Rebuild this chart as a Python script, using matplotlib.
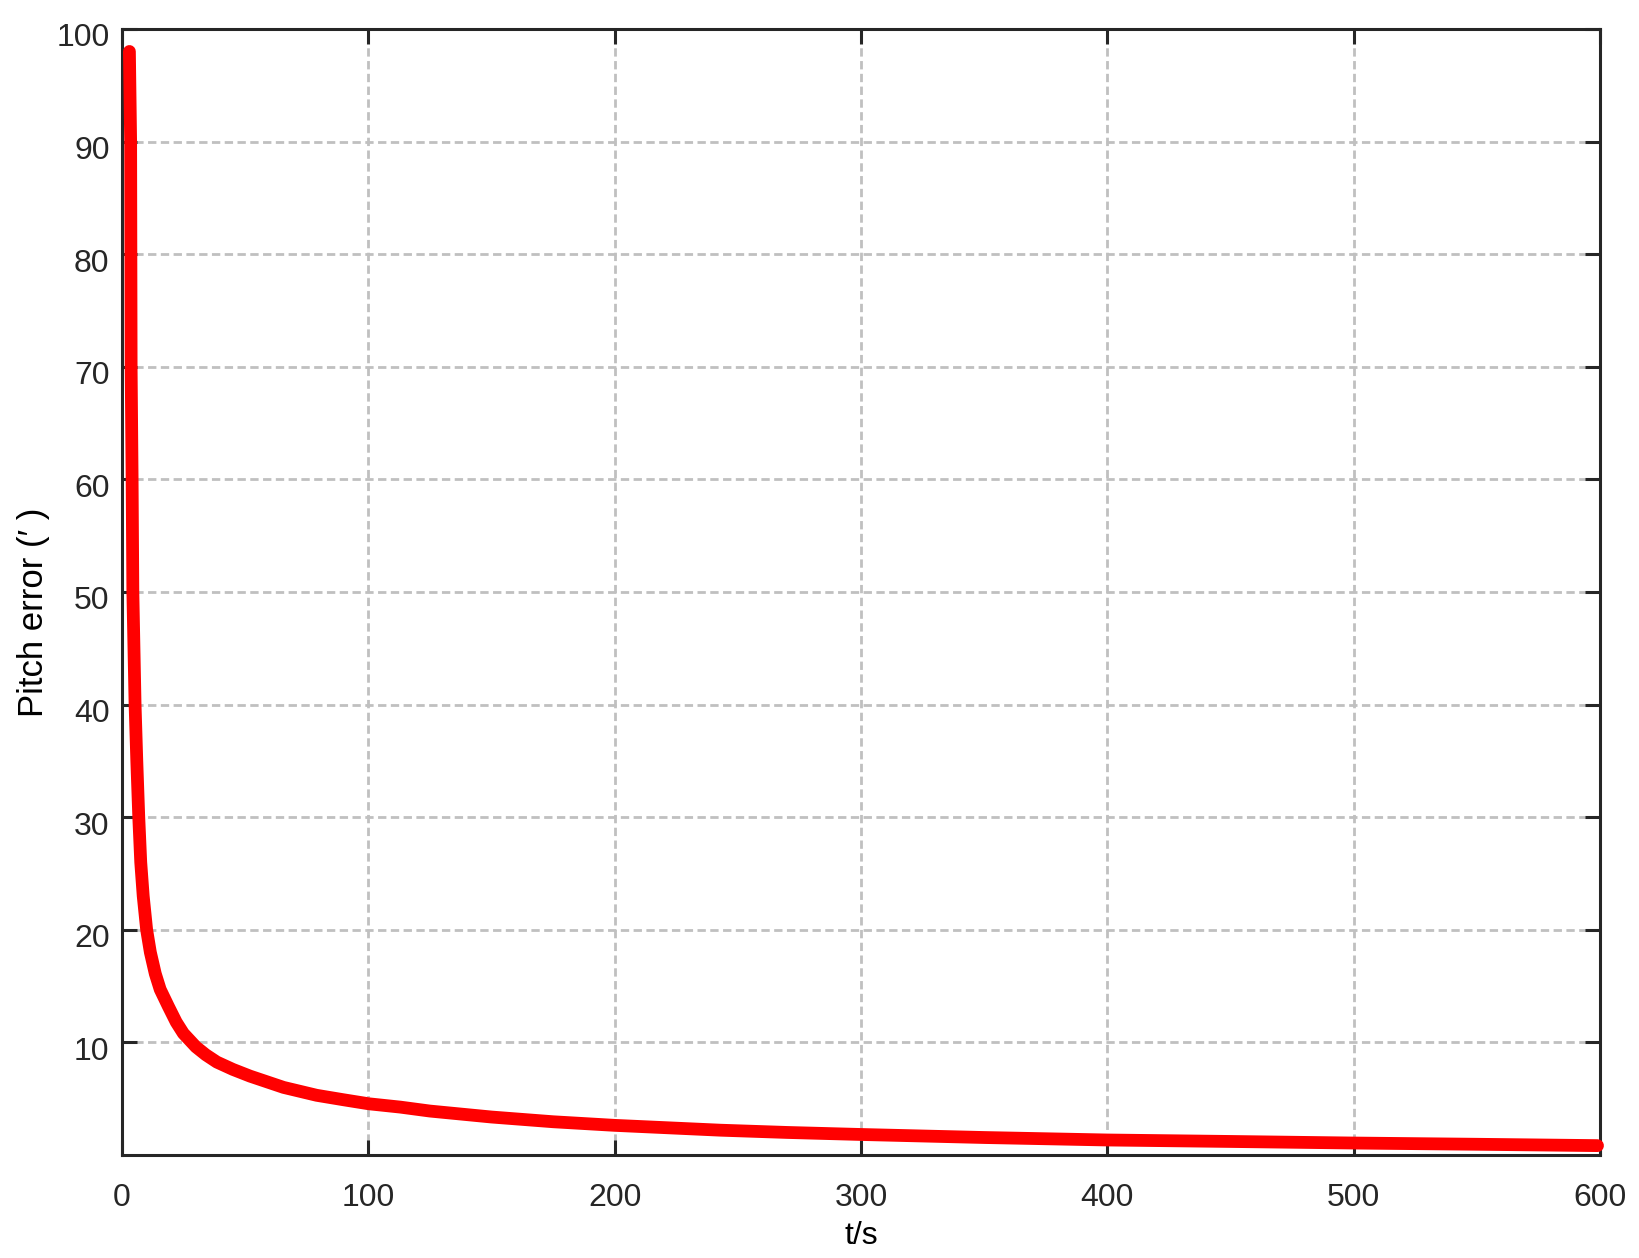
import numpy as np
import matplotlib
matplotlib.use("Agg")
import matplotlib.pyplot as plt
import matplotlib.transforms as mtransforms

# values
t = [3, 3.5, 3.6, 3.7, 4.1, 4.4, 5.3, 6.0, 6.8, 7.6, 8.6, 10, 11.5, 13.5,
     15.5, 18.8, 22, 24.9, 30, 34, 38.5, 45, 52, 65.6, 79, 90, 100, 113,
     125, 150, 175, 200, 243, 270, 300, 350, 400, 450, 500, 550, 599]
err = [98, 90, 80, 70, 60, 50, 40, 35, 30, 26, 23, 20, 18, 16.1,
       14.7, 13.2, 11.8, 10.8, 9.6, 8.9, 8.25, 7.6, 7.0, 6.0, 5.3, 4.9,
       4.55, 4.25, 3.9, 3.37, 2.95, 2.63, 2.2, 2.0, 1.82, 1.55, 1.33,
       1.2, 1.06, 0.95, 0.83]

xticks = [0, 100, 200, 300, 400, 500, 600]
yticks = [10, 20, 30, 40, 50, 60, 70, 80, 90, 100]

plt.rcParams['font.family'] = ['Liberation Sans', 'DejaVu Sans']

fig = plt.figure(figsize=(16.4, 12.58), dpi=100)
ax = fig.add_axes([0.0744, 0.0819, 0.9012, 0.8951])

ax.plot(t, err, color='#ff0000', lw=9.2, solid_capstyle='round',
        solid_joinstyle='round', zorder=3, clip_on=False)

ax.set_xlim(0, 600)
ax.set_ylim(0, 100)
ax.set_xticks(xticks)
ax.set_yticks(yticks)

ax.grid(True, color='#c0c0c0', linestyle=(0, (3, 1.6)), linewidth=2.0)
for sp in ax.spines.values():
    sp.set_linewidth(2.2)
    sp.set_color('#262626')

ax.tick_params(direction='in', length=11, width=2.2, color='#262626',
               top=True, right=True, labelsize=23, labelcolor='#262626')
ax.tick_params(axis='x', pad=20)
ax.tick_params(axis='y', pad=9)

# y labels sit a little below their ticks in the original
shift = mtransforms.ScaledTranslation(0, -0.06, fig.dpi_scale_trans)
for lab in ax.get_yticklabels():
    lab.set_transform(lab.get_transform() + shift)

ax.set_xlabel('t/s', fontsize=23, labelpad=6)
ax.set_ylabel('Pitch error (\u2032 )', fontsize=25)
ax.yaxis.set_label_coords(-0.049, 0.482)

fig.savefig('out.png', dpi=100)
